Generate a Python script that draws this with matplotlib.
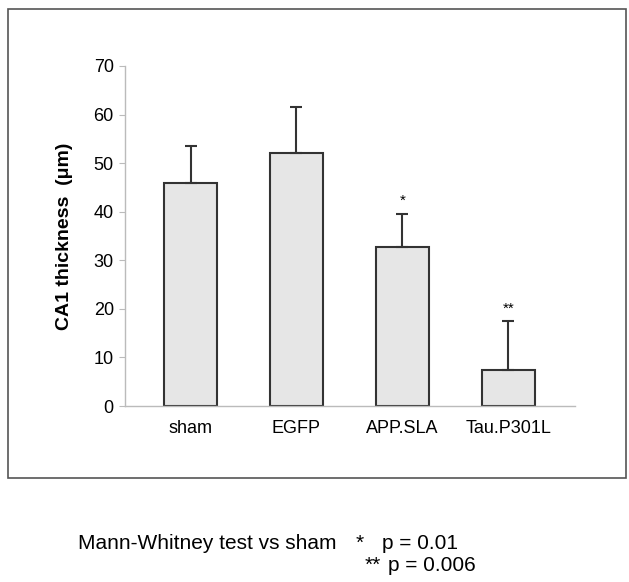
import matplotlib
matplotlib.use('Agg')
import matplotlib.pyplot as plt
from matplotlib.patches import Rectangle

plt.rcParams['font.family'] = ['Liberation Sans', 'DejaVu Sans']

groups = ['sham', 'EGFP', 'APP.SLA', 'Tau.P301L']
thickness = [46.0, 52.0, 32.8, 7.5]
sd = [7.5, 9.5, 6.8, 9.9]
stars = ['', '', '*', '**']
yticks = [0, 10, 20, 30, 40, 50, 60, 70]

fig = plt.figure(figsize=(6.29, 5.82), dpi=100)

# outer frame around the chart
fig.patches.append(Rectangle((0.0127, 0.1787), 0.982, 0.806, transform=fig.transFigure,
                             fill=False, edgecolor='#555555', linewidth=1.2))

ax = fig.add_axes([0.1987, 0.3024, 0.7153, 0.5842])
x = range(len(groups))
ax.bar(x, thickness, width=0.5, color='#e6e6e6', edgecolor='#333333', linewidth=1.5)
ax.errorbar(x, thickness, yerr=[[0] * len(sd), sd], fmt='none', ecolor='#333333',
            elinewidth=1.5, capsize=4, capthick=1.5)
for i, s in enumerate(stars):
    if s:
        ax.text(i, thickness[i] + sd[i] + 1.2, s, ha='center', va='bottom', fontsize=11)

ax.set_xlim(-0.62, 3.63)
ax.set_ylim(0, 70)
ax.set_yticks(yticks)
ax.set_xticks(list(x))
ax.set_xticklabels(groups, fontsize=13)
ax.tick_params(axis='x', length=0, pad=10)
ax.tick_params(axis='y', length=4, color='#bbbbbb', labelsize=13, pad=4)
for side in ['top', 'right']:
    ax.spines[side].set_visible(False)
for side in ['left', 'bottom']:
    ax.spines[side].set_color('#bbbbbb')
    ax.spines[side].set_linewidth(1)
ax.set_ylabel('CA1 thickness  (\u03bcm)', fontsize=14, fontweight='bold', labelpad=15)

# footnote with the test results
fig.text(78 / 629, 1 - 549 / 582, 'Mann-Whitney test vs sham', fontsize=15, va='baseline')
fig.text(356 / 629, 1 - 549 / 582, '*', fontsize=15, va='baseline')
fig.text(382 / 629, 1 - 549 / 582, 'p = 0.01', fontsize=15, va='baseline')
fig.text(365 / 629, 1 - 571 / 582, '**', fontsize=15, va='baseline')
fig.text(388 / 629, 1 - 571 / 582, 'p = 0.006', fontsize=15, va='baseline')

fig.savefig('out.png', dpi=100)
plt.close(fig)
